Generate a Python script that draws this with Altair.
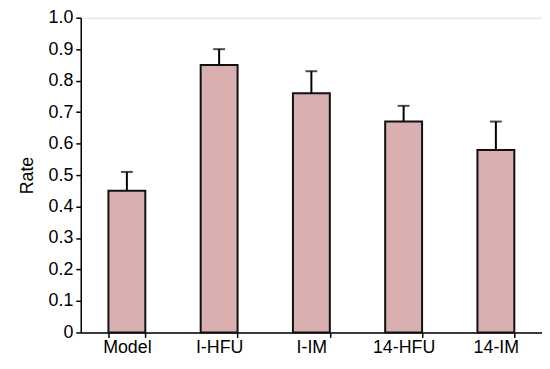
import altair as alt
import pandas as pd

groups = ["Model", "I-HFU", "I-IM", "14-HFU", "14-IM"]
rates = [0.45, 0.85, 0.76, 0.67, 0.58]
errors = [0.06, 0.05, 0.07, 0.05, 0.09]

df = pd.DataFrame({"group": groups, "rate": rates, "err": errors})
df["upper"] = df["rate"] + df["err"]

FONT = "Liberation Sans"

common_axis = dict(
    labelFont=FONT,
    labelFontSize=18,
    labelColor="black",
    ticks=True,
    tickColor="black",
    tickSize=5,
    tickWidth=1.5,
    domainColor="black",
    domainWidth=1.5,
    grid=False,
)

x = alt.X(
    "group:N",
    sort=groups,
    title=None,
    scale=alt.Scale(paddingInner=0.6, paddingOuter=0.3),
    axis=alt.Axis(tickBand="extent", labelAngle=0, labelPadding=1, **common_axis),
)

yvals = [round(i / 10, 1) for i in range(11)]
y_scale = alt.Scale(domain=[0, 1], nice=False)
y_axis = alt.Axis(
    values=yvals,
    labelExpr="datum.value == 0 ? '0' : format(datum.value, '.1f')",
    labelOverlap=False,
    labelPadding=3,
    titleFont=FONT,
    titleFontSize=18,
    titleFontWeight="normal",
    titleColor="black",
    titlePadding=12,
    **common_axis,
)

bars = alt.Chart(df).mark_bar(
    color="#D9AFAF", stroke="#111111", strokeWidth=2
).encode(
    x=x,
    y=alt.Y("rate:Q", scale=y_scale, title="Rate", axis=y_axis),
)

rules = alt.Chart(df).mark_rule(color="black", strokeWidth=2).encode(
    x=x,
    y=alt.Y("rate:Q", scale=y_scale, title="Rate", axis=y_axis),
    y2="upper:Q",
)

caps = alt.Chart(df).mark_tick(
    color="black", orient="horizontal", size=12, thickness=2
).encode(
    x=x,
    y=alt.Y("upper:Q", scale=y_scale, title="Rate", axis=y_axis),
)

chart = (
    alt.layer(bars, rules, caps)
    .properties(
        width=466,
        height=318,
        autosize=alt.AutoSizeParams(type="none"),
        padding={"left": 73.5, "top": 8, "right": 0, "bottom": 23},
    )
    .configure_view(stroke=None)
    .configure(background="white")
)

chart.save("out.html", embed_options={"renderer": "svg", "actions": False})
